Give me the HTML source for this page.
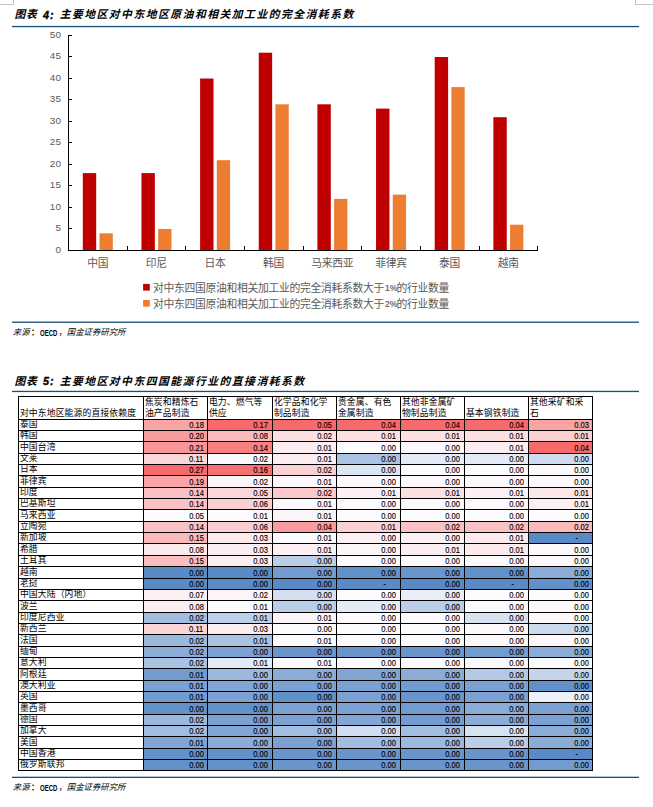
<!DOCTYPE html>
<html lang="zh"><head><meta charset="utf-8"><title>图表</title><style>
html,body{margin:0;padding:0;background:#fff}
body{width:653px;height:807px;position:relative;overflow:hidden;font-family:"Liberation Sans","Noto Sans CJK SC",sans-serif;color:#000}
#bg{position:absolute;left:0;top:0}
.cj{position:absolute;display:block;color:#000;white-space:nowrap;overflow:visible;line-height:1.35;letter-spacing:0;font-family:"Liberation Sans","Noto Sans CJK SC",sans-serif;box-sizing:border-box;text-align:left;font-weight:normal}
.cj.t1{font-weight:bold;font-style:italic;letter-spacing:1.5px;padding-left:2.75px}
.cj.t0{font-weight:bold;font-style:italic;letter-spacing:.6px;padding-left:2.3px}
.cj.ax{color:#595959;letter-spacing:-.3px;padding-left:1.85px}
.cj.src{font-style:italic;padding-left:2px}
.cj.pn{padding-left:2px}
.cj.tb{letter-spacing:.15px;padding-left:2.07px}
.lt{position:absolute;white-space:nowrap;line-height:1}
.yl{position:absolute;left:30px;width:31.3px;text-align:right;font-size:9.9px;line-height:10px;color:#595959;letter-spacing:.3px}
table{position:absolute;left:18px;top:396px;border-collapse:separate;border-spacing:0;table-layout:fixed;border-left:1px solid #000;border-top:1px solid #000;width:575px}
td,th{box-sizing:border-box;padding:0;border-right:1px solid #000;border-bottom:1px solid #000;font-weight:normal;position:relative;overflow:hidden;text-align:right;font-size:8.4px;line-height:9px;vertical-align:top}
tr{padding:0}
td.n{padding:0 4.4px 0 0;font-size:9.2px;line-height:10px}
td.w{padding-right:3.4px}
td.d{padding-right:14.2px}
td.n b{font-weight:normal;-webkit-text-stroke:.15px #000;display:inline-block;transform:scaleX(.82);transform-origin:100% 50%}
td .cj,th .cj{left:0;top:0}
</style></head><body>
<svg id="bg" width="653" height="807" viewBox="0 0 653 807"><g fill="none" stroke="#c4c4c4" stroke-width="1" shape-rendering="crispEdges"><path d="M0 4.5H13.5V0"/><path d="M653 4.5H635.5V0"/></g><rect x="12" y="25.9" width="627" height="1.3" fill="#14507a"/><rect x="12" y="321.55" width="627" height="1.3" fill="#14507a"/><rect x="12" y="390.8" width="627" height="1.3" fill="#14507a"/><rect x="12" y="776.7" width="627" height="1.3" fill="#14507a"/><g fill="#000" shape-rendering="crispEdges"><rect x="68" y="35" width="1" height="216"/><rect x="68" y="250" width="470" height="1"/><rect x="69" y="250" width="3" height="1"/><rect x="69" y="228" width="3" height="1"/><rect x="69" y="207" width="3" height="1"/><rect x="69" y="185" width="3" height="1"/><rect x="69" y="164" width="3" height="1"/><rect x="69" y="142" width="3" height="1"/><rect x="69" y="121" width="3" height="1"/><rect x="69" y="99" width="3" height="1"/><rect x="69" y="78" width="3" height="1"/><rect x="69" y="56" width="3" height="1"/><rect x="69" y="35" width="3" height="1"/><rect x="127" y="246" width="1" height="4"/><rect x="185" y="246" width="1" height="4"/><rect x="244" y="246" width="1" height="4"/><rect x="303" y="246" width="1" height="4"/><rect x="361" y="246" width="1" height="4"/><rect x="420" y="246" width="1" height="4"/><rect x="479" y="246" width="1" height="4"/><rect x="537" y="246" width="1" height="4"/></g><g><rect x="82.8" y="173.1" width="13.4" height="76.9" fill="#c00000"/><rect x="99.5" y="233.3" width="13.3" height="16.7" fill="#ed7d31"/><rect x="141.45" y="173.1" width="13.4" height="76.9" fill="#c00000"/><rect x="158.15" y="229" width="13.3" height="21" fill="#ed7d31"/><rect x="200.1" y="78.5" width="13.4" height="171.5" fill="#c00000"/><rect x="216.8" y="160.2" width="13.3" height="89.8" fill="#ed7d31"/><rect x="258.75" y="52.7" width="13.4" height="197.3" fill="#c00000"/><rect x="275.45" y="104.3" width="13.3" height="145.7" fill="#ed7d31"/><rect x="317.4" y="104.3" width="13.4" height="145.7" fill="#c00000"/><rect x="334.1" y="198.9" width="13.3" height="51.1" fill="#ed7d31"/><rect x="376.05" y="108.6" width="13.4" height="141.4" fill="#c00000"/><rect x="392.75" y="194.6" width="13.3" height="55.4" fill="#ed7d31"/><rect x="434.7" y="57" width="13.4" height="193" fill="#c00000"/><rect x="451.4" y="87.1" width="13.3" height="162.9" fill="#ed7d31"/><rect x="493.35" y="117.2" width="13.4" height="132.8" fill="#c00000"/><rect x="510.05" y="224.7" width="13.3" height="25.3" fill="#ed7d31"/><rect x="143.1" y="283.9" width="6.7" height="6.7" fill="#c00000"/><rect x="143.1" y="300" width="6.7" height="6.7" fill="#ed7d31"/></g></svg>
<span class="cj t0" style="left:12.2px;top:7.4px;width:26.8px;height:14.58px;font-size:10.8px">图表</span>
<span class="lt" style="left:43px;top:9px;font:italic bold 10.8px 'Liberation Sans',sans-serif;letter-spacing:1px;-webkit-text-stroke:.35px #000">4:</span>
<span class="cj t1" style="left:56.9px;top:7.4px;width:299.2px;height:14.58px;font-size:10.8px">主要地区对中东地区原油和相关加工业的完全消耗系数</span>
<span class="cj t0" style="left:12.2px;top:373.7px;width:26.8px;height:14.58px;font-size:10.8px">图表</span>
<span class="lt" style="left:43px;top:375.3px;font:italic bold 10.8px 'Liberation Sans',sans-serif;letter-spacing:1px;-webkit-text-stroke:.35px #000">5:</span>
<span class="cj t1" style="left:56.9px;top:373.7px;width:250px;height:14.58px;font-size:10.8px">主要地区对中东四国能源行业的直接消耗系数</span>
<div class="yl" style="top:245px">0</div>
<div class="yl" style="top:223px">5</div>
<div class="yl" style="top:202px">10</div>
<div class="yl" style="top:180px">15</div>
<div class="yl" style="top:159px">20</div>
<div class="yl" style="top:137px">25</div>
<div class="yl" style="top:116px">30</div>
<div class="yl" style="top:94px">35</div>
<div class="yl" style="top:73px">40</div>
<div class="yl" style="top:51px">45</div>
<div class="yl" style="top:30px">50</div>
<span class="cj ax" style="left:85.33px;top:255.8px;width:25px;height:14.58px;font-size:10.8px">中国</span>
<span class="cj ax" style="left:143.98px;top:255.8px;width:25px;height:14.58px;font-size:10.8px">印尼</span>
<span class="cj ax" style="left:202.62px;top:255.8px;width:25px;height:14.58px;font-size:10.8px">日本</span>
<span class="cj ax" style="left:261.28px;top:255.8px;width:25px;height:14.58px;font-size:10.8px">韩国</span>
<span class="cj ax" style="left:309.43px;top:255.8px;width:46px;height:14.58px;font-size:10.8px">马来西亚</span>
<span class="cj ax" style="left:373.33px;top:255.8px;width:35.5px;height:14.58px;font-size:10.8px">菲律宾</span>
<span class="cj ax" style="left:437.23px;top:255.8px;width:25px;height:14.58px;font-size:10.8px">泰国</span>
<span class="cj ax" style="left:495.88px;top:255.8px;width:25px;height:14.58px;font-size:10.8px">越南</span>
<span class="cj ax" style="left:151.2px;top:280.8px;width:235px;height:14.58px;font-size:10.8px">对中东四国原油和相关加工业的完全消耗系数大于</span>
<span class="lt" style="left:385.1px;top:283.7px;font-size:9.2px;color:#595959;-webkit-text-stroke:.2px #595959;transform:scaleX(.93);transform-origin:0 0">1%</span>
<span class="cj ax" style="left:394.7px;top:280.8px;width:56.5px;height:14.58px;font-size:10.8px">的行业数量</span>
<span class="cj ax" style="left:151.2px;top:296.9px;width:235px;height:14.58px;font-size:10.8px">对中东四国原油和相关加工业的完全消耗系数大于</span>
<span class="lt" style="left:385.1px;top:299.8px;font-size:9.2px;color:#595959;-webkit-text-stroke:.2px #595959;transform:scaleX(.93);transform-origin:0 0">2%</span>
<span class="cj ax" style="left:394.7px;top:296.9px;width:56.5px;height:14.58px;font-size:10.8px">的行业数量</span>
<span class="cj src" style="left:10.8px;top:326.8px;width:20.8px;height:11.34px;font-size:8.4px">来源</span>
<span class="cj pn" style="left:28.9px;top:326.8px;width:12.4px;height:11.34px;font-size:8.4px;font-weight:bold">：</span>
<span class="lt" style="left:39.8px;top:328.5px;font-size:8.4px;font-weight:bold;transform:scaleX(.72);transform-origin:0 0">OECD</span>
<span class="cj pn" style="left:56.4px;top:326.8px;width:12.4px;height:11.34px;font-size:8.4px">，</span>
<span class="cj src" style="left:64.8px;top:326.8px;width:62.8px;height:11.34px;font-size:8.4px">国金证券研究所</span>
<span class="cj src" style="left:10.8px;top:782.3px;width:20.8px;height:11.34px;font-size:8.4px">来源</span>
<span class="cj pn" style="left:28.9px;top:782.3px;width:12.4px;height:11.34px;font-size:8.4px;font-weight:bold">：</span>
<span class="lt" style="left:39.8px;top:784px;font-size:8.4px;font-weight:bold;transform:scaleX(.72);transform-origin:0 0">OECD</span>
<span class="cj pn" style="left:56.4px;top:782.3px;width:12.4px;height:11.34px;font-size:8.4px">，</span>
<span class="cj src" style="left:64.8px;top:782.3px;width:62.8px;height:11.34px;font-size:8.4px">国金证券研究所</span>
<table><colgroup><col style="width:125px"><col style="width:64px"><col style="width:65px"><col style="width:64px"><col style="width:64px"><col style="width:64px"><col style="width:64px"><col style="width:64px"></colgroup>
<tr style="height:23px">
<th style="height:23px"><span class="cj tb" style="left:-1.2px;top:11.1px;width:120.35px;height:11.88px;font-size:8.8px">对中东地区能源的直接依赖度</span></th>
<th style="height:23px"><span class="cj tb" style="left:-1.2px;top:0.2px;width:57.7px;height:11.88px;font-size:8.8px">焦炭和精炼石</span><span class="cj tb" style="left:-1.2px;top:11.1px;width:48.75px;height:11.88px;font-size:8.8px">油产品制造</span></th>
<th style="height:23px"><span class="cj tb" style="left:-1.2px;top:0.2px;width:57.7px;height:11.88px;font-size:8.8px">电力、燃气等</span><span class="cj tb" style="left:-1.2px;top:11.1px;width:21.9px;height:11.88px;font-size:8.8px">供应</span></th>
<th style="height:23px"><span class="cj tb" style="left:-1.2px;top:0.2px;width:57.7px;height:11.88px;font-size:8.8px">化学品和化学</span><span class="cj tb" style="left:-1.2px;top:11.1px;width:39.8px;height:11.88px;font-size:8.8px">制品制造</span></th>
<th style="height:23px"><span class="cj tb" style="left:-1.2px;top:0.2px;width:57.7px;height:11.88px;font-size:8.8px">贵金属、有色</span><span class="cj tb" style="left:-1.2px;top:11.1px;width:39.8px;height:11.88px;font-size:8.8px">金属制造</span></th>
<th style="height:23px"><span class="cj tb" style="left:-1.2px;top:0.2px;width:57.7px;height:11.88px;font-size:8.8px">其他非金属矿</span><span class="cj tb" style="left:-1.2px;top:11.1px;width:48.75px;height:11.88px;font-size:8.8px">物制品制造</span></th>
<th style="height:23px"><span class="cj tb" style="left:-1.2px;top:11.1px;width:57.7px;height:11.88px;font-size:8.8px">基本钢铁制造</span></th>
<th style="height:23px"><span class="cj tb" style="left:-1.2px;top:0.2px;width:57.7px;height:11.88px;font-size:8.8px">其他采矿和采</span><span class="cj tb" style="left:-1.2px;top:11.1px;width:12.95px;height:11.88px;font-size:8.8px">石</span></th>
</tr>
<tr style="height:11px"><td style="height:11px"><span class="cj tb" style="left:-1.2px;top:-0.6px;width:21.9px;height:11.88px;font-size:8.8px">泰国</span></td>
<td class="n w" style="height:11px;background:#faa4a6"><b>0.18</b></td>
<td class="n" style="height:11px;background:#f8696b"><b>0.17</b></td>
<td class="n" style="height:11px;background:#f8696b"><b>0.05</b></td>
<td class="n" style="height:11px;background:#f8696b"><b>0.04</b></td>
<td class="n" style="height:11px;background:#f8696b"><b>0.04</b></td>
<td class="n" style="height:11px;background:#f8696b"><b>0.04</b></td>
<td class="n w" style="height:11px;background:#faa4a6"><b>0.03</b></td>
</tr>
<tr style="height:11px"><td style="height:11px"><span class="cj tb" style="left:-1.2px;top:-0.6px;width:21.9px;height:11.88px;font-size:8.8px">韩国</span></td>
<td class="n w" style="height:11px;background:#f99c9f"><b>0.20</b></td>
<td class="n" style="height:11px;background:#fababc"><b>0.08</b></td>
<td class="n" style="height:11px;background:#fbdfe1"><b>0.02</b></td>
<td class="n" style="height:11px;background:#fbdfe1"><b>0.01</b></td>
<td class="n" style="height:11px;background:#fbdfe1"><b>0.01</b></td>
<td class="n" style="height:11px;background:#fbdfe1"><b>0.01</b></td>
<td class="n w" style="height:11px;background:#fbd0d3"><b>0.01</b></td>
</tr>
<tr style="height:12px"><td style="height:12px"><span class="cj tb" style="left:-1.2px;top:0.4px;width:39.8px;height:11.88px;font-size:8.8px">中国台湾</span></td>
<td class="n w" style="height:12px;padding-top:1px;background:#f99597"><b>0.21</b></td>
<td class="n" style="height:12px;padding-top:1px;background:#f97f81"><b>0.14</b></td>
<td class="n" style="height:12px;padding-top:1px;background:#fcedf0"><b>0.01</b></td>
<td class="n" style="height:12px;padding-top:1px;background:#fcfcff"><b>0.00</b></td>
<td class="n" style="height:12px;padding-top:1px;background:#fcf8fb"><b>0.00</b></td>
<td class="n" style="height:12px;padding-top:1px;background:#fcedf0"><b>0.01</b></td>
<td class="n w" style="height:12px;padding-top:1px;background:#f8696b"><b>0.04</b></td>
</tr>
<tr style="height:11px"><td style="height:11px"><span class="cj tb" style="left:-1.2px;top:-0.6px;width:21.9px;height:11.88px;font-size:8.8px">文莱</span></td>
<td class="n w" style="height:11px;background:#fbd7da"><b>0.11</b></td>
<td class="n" style="height:11px;background:#fcf9fc"><b>0.02</b></td>
<td class="n" style="height:11px;background:#fcedf0"><b>0.01</b></td>
<td class="n" style="height:11px;background:#abc3e2"><b>0.00</b></td>
<td class="n" style="height:11px;background:#e4ebf6"><b>0.00</b></td>
<td class="n" style="height:11px;background:#e4ebf6"><b>0.00</b></td>
<td class="n w" style="height:11px;background:#cfdcef"><b>0.00</b></td>
</tr>
<tr style="height:11px"><td style="height:11px"><span class="cj tb" style="left:-1.2px;top:-0.6px;width:21.9px;height:11.88px;font-size:8.8px">日本</span></td>
<td class="n w" style="height:11px;background:#f8696b"><b>0.27</b></td>
<td class="n" style="height:11px;background:#f87072"><b>0.16</b></td>
<td class="n" style="height:11px;background:#fbd0d3"><b>0.02</b></td>
<td class="n" style="height:11px;background:#dce5f4"><b>0.00</b></td>
<td class="n" style="height:11px;background:#fcfcff"><b>0.00</b></td>
<td class="n" style="height:11px;background:#fcfcff"><b>0.00</b></td>
<td class="n w" style="height:11px;background:#fcf9fc"><b>0.00</b></td>
</tr>
<tr style="height:12px"><td style="height:12px"><span class="cj tb" style="left:-1.2px;top:0.4px;width:30.85px;height:11.88px;font-size:8.8px">菲律宾</span></td>
<td class="n w" style="height:12px;padding-top:1px;background:#faa4a6"><b>0.19</b></td>
<td class="n" style="height:12px;padding-top:1px;background:#fcf5f8"><b>0.02</b></td>
<td class="n" style="height:12px;padding-top:1px;background:#fcf8fb"><b>0.01</b></td>
<td class="n" style="height:12px;padding-top:1px;background:#fcf8fb"><b>0.00</b></td>
<td class="n" style="height:12px;padding-top:1px;background:#fcf8fb"><b>0.00</b></td>
<td class="n" style="height:12px;padding-top:1px;background:#fcf8fb"><b>0.00</b></td>
<td class="n w" style="height:12px;padding-top:1px;background:#fcf8fb"><b>0.00</b></td>
</tr>
<tr style="height:11px"><td style="height:11px"><span class="cj tb" style="left:-1.2px;top:-0.6px;width:21.9px;height:11.88px;font-size:8.8px">印度</span></td>
<td class="n w" style="height:11px;background:#fac1c4"><b>0.14</b></td>
<td class="n" style="height:11px;background:#fbd7da"><b>0.05</b></td>
<td class="n" style="height:11px;background:#fbc9cb"><b>0.02</b></td>
<td class="n" style="height:11px;background:#fcf0f3"><b>0.01</b></td>
<td class="n" style="height:11px;background:#fbdfe1"><b>0.01</b></td>
<td class="n" style="height:11px;background:#fcf0f3"><b>0.01</b></td>
<td class="n w" style="height:11px;background:#fbe6e9"><b>0.01</b></td>
</tr>
<tr style="height:11px"><td style="height:11px"><span class="cj tb" style="left:-1.2px;top:-0.6px;width:39.8px;height:11.88px;font-size:8.8px">巴基斯坦</span></td>
<td class="n w" style="height:11px;background:#fac1c4"><b>0.14</b></td>
<td class="n" style="height:11px;background:#fbd0d3"><b>0.06</b></td>
<td class="n" style="height:11px;background:#fcf8fb"><b>0.01</b></td>
<td class="n" style="height:11px;background:#fcf9fc"><b>0.00</b></td>
<td class="n" style="height:11px;background:#fcf9fc"><b>0.00</b></td>
<td class="n" style="height:11px;background:#fcf8fb"><b>0.00</b></td>
<td class="n w" style="height:11px;background:#fcf0f3"><b>0.01</b></td>
</tr>
<tr style="height:12px"><td style="height:12px"><span class="cj tb" style="left:-1.2px;top:0.4px;width:39.8px;height:11.88px;font-size:8.8px">马来西亚</span></td>
<td class="n w" style="height:12px;padding-top:1px;background:#fcfbfe"><b>0.05</b></td>
<td class="n" style="height:12px;padding-top:1px;background:#fcfcff"><b>0.01</b></td>
<td class="n" style="height:12px;padding-top:1px;background:#fcf5f8"><b>0.01</b></td>
<td class="n" style="height:12px;padding-top:1px;background:#fcfcff"><b>0.00</b></td>
<td class="n" style="height:12px;padding-top:1px;background:#fcfcff"><b>0.00</b></td>
<td class="n" style="height:12px;padding-top:1px;background:#fcfcff"><b>0.00</b></td>
<td class="n w" style="height:12px;padding-top:1px;background:#fcfcff"><b>0.00</b></td>
</tr>
<tr style="height:11px"><td style="height:11px"><span class="cj tb" style="left:-1.2px;top:-0.6px;width:30.85px;height:11.88px;font-size:8.8px">立陶宛</span></td>
<td class="n w" style="height:11px;background:#fac1c4"><b>0.14</b></td>
<td class="n" style="height:11px;background:#fbcdd0"><b>0.06</b></td>
<td class="n" style="height:11px;background:#f99c9f"><b>0.04</b></td>
<td class="n" style="height:11px;background:#fbd0d3"><b>0.01</b></td>
<td class="n" style="height:11px;background:#fac1c4"><b>0.02</b></td>
<td class="n" style="height:11px;background:#fac1c4"><b>0.02</b></td>
<td class="n w" style="height:11px;background:#fababc"><b>0.02</b></td>
</tr>
<tr style="height:11px"><td style="height:11px"><span class="cj tb" style="left:-1.2px;top:-0.6px;width:30.85px;height:11.88px;font-size:8.8px">新加坡</span></td>
<td class="n w" style="height:11px;background:#fababc"><b>0.15</b></td>
<td class="n" style="height:11px;background:#fceaed"><b>0.03</b></td>
<td class="n" style="height:11px;background:#fcfcff"><b>0.01</b></td>
<td class="n" style="height:11px;background:#fcf0f3"><b>0.00</b></td>
<td class="n" style="height:11px;background:#fcf0f3"><b>0.00</b></td>
<td class="n" style="height:11px;background:#fceaed"><b>0.01</b></td>
<td class="n d w" style="height:11px;background:#5a8ac6"><b>-</b></td>
</tr>
<tr style="height:12px"><td style="height:12px"><span class="cj tb" style="left:-1.2px;top:0.4px;width:21.9px;height:11.88px;font-size:8.8px">希腊</span></td>
<td class="n w" style="height:12px;padding-top:1px;background:#fceaed"><b>0.08</b></td>
<td class="n" style="height:12px;padding-top:1px;background:#fcedf0"><b>0.03</b></td>
<td class="n" style="height:12px;padding-top:1px;background:#fcf0f3"><b>0.01</b></td>
<td class="n" style="height:12px;padding-top:1px;background:#fcf5f8"><b>0.00</b></td>
<td class="n" style="height:12px;padding-top:1px;background:#fcedf0"><b>0.01</b></td>
<td class="n" style="height:12px;padding-top:1px;background:#fceaed"><b>0.01</b></td>
<td class="n w" style="height:12px;padding-top:1px;background:#fcf9fc"><b>0.00</b></td>
</tr>
<tr style="height:11px"><td style="height:11px"><span class="cj tb" style="left:-1.2px;top:-0.6px;width:30.85px;height:11.88px;font-size:8.8px">土耳其</span></td>
<td class="n w" style="height:11px;background:#fabec1"><b>0.15</b></td>
<td class="n" style="height:11px;background:#fcedf0"><b>0.03</b></td>
<td class="n" style="height:11px;background:#bbcee8"><b>0.00</b></td>
<td class="n" style="height:11px;background:#fcfcff"><b>0.00</b></td>
<td class="n" style="height:11px;background:#fcfcff"><b>0.00</b></td>
<td class="n" style="height:11px;background:#fcf9fc"><b>0.00</b></td>
<td class="n w" style="height:11px;background:#fcf8fb"><b>0.00</b></td>
</tr>
<tr style="height:12px"><td style="height:12px"><span class="cj tb" style="left:-1.2px;top:0.4px;width:21.9px;height:11.88px;font-size:8.8px">越南</span></td>
<td class="n w" style="height:12px;padding-top:1px;background:#5a8ac6"><b>0.00</b></td>
<td class="n" style="height:12px;padding-top:1px;background:#5a8ac6"><b>0.00</b></td>
<td class="n" style="height:12px;padding-top:1px;background:#729bcf"><b>0.00</b></td>
<td class="n" style="height:12px;padding-top:1px;background:#6290c9"><b>0.00</b></td>
<td class="n" style="height:12px;padding-top:1px;background:#6a95cc"><b>0.00</b></td>
<td class="n" style="height:12px;padding-top:1px;background:#6290c9"><b>0.00</b></td>
<td class="n w" style="height:12px;padding-top:1px;background:#8bacd7"><b>0.00</b></td>
</tr>
<tr style="height:11px"><td style="height:11px"><span class="cj tb" style="left:-1.2px;top:-0.6px;width:21.9px;height:11.88px;font-size:8.8px">老挝</span></td>
<td class="n w" style="height:11px;background:#5a8ac6"><b>0.00</b></td>
<td class="n" style="height:11px;background:#5a8ac6"><b>0.00</b></td>
<td class="n" style="height:11px;background:#5a8ac6"><b>0.00</b></td>
<td class="n d" style="height:11px;background:#5a8ac6"><b>-</b></td>
<td class="n" style="height:11px;background:#5a8ac6"><b>0.00</b></td>
<td class="n d" style="height:11px;background:#5a8ac6"><b>-</b></td>
<td class="n w" style="height:11px;background:#6290c9"><b>0.00</b></td>
</tr>
<tr style="height:11px"><td style="height:11px"><span class="cj tb" style="left:-1.2px;top:-0.6px;width:75.6px;height:11.88px;font-size:8.8px">中国大陆（内地）</span></td>
<td class="n w" style="height:11px;background:#fcf0f3"><b>0.07</b></td>
<td class="n" style="height:11px;background:#fcf5f8"><b>0.02</b></td>
<td class="n" style="height:11px;background:#d4e0f1"><b>0.00</b></td>
<td class="n" style="height:11px;background:#fcfcff"><b>0.00</b></td>
<td class="n" style="height:11px;background:#e9eef8"><b>0.00</b></td>
<td class="n" style="height:11px;background:#fcfcff"><b>0.00</b></td>
<td class="n w" style="height:11px;background:#fcfcff"><b>0.00</b></td>
</tr>
<tr style="height:12px"><td style="height:12px"><span class="cj tb" style="left:-1.2px;top:0.4px;width:21.9px;height:11.88px;font-size:8.8px">波兰</span></td>
<td class="n w" style="height:12px;padding-top:1px;background:#fcedf0"><b>0.08</b></td>
<td class="n" style="height:12px;padding-top:1px;background:#fcfcff"><b>0.01</b></td>
<td class="n" style="height:12px;padding-top:1px;background:#bbcee8"><b>0.00</b></td>
<td class="n" style="height:12px;padding-top:1px;background:#e4ebf6"><b>0.00</b></td>
<td class="n" style="height:12px;padding-top:1px;background:#bbcee8"><b>0.00</b></td>
<td class="n" style="height:12px;padding-top:1px;background:#fcfcff"><b>0.00</b></td>
<td class="n w" style="height:12px;padding-top:1px;background:#fcf9fc"><b>0.00</b></td>
</tr>
<tr style="height:11px"><td style="height:11px"><span class="cj tb" style="left:-1.2px;top:-0.6px;width:48.75px;height:11.88px;font-size:8.8px">印度尼西亚</span></td>
<td class="n w" style="height:11px;background:#a3bde0"><b>0.02</b></td>
<td class="n" style="height:11px;background:#bed1e9"><b>0.01</b></td>
<td class="n" style="height:11px;background:#fcf5f8"><b>0.01</b></td>
<td class="n" style="height:11px;background:#fcfcff"><b>0.00</b></td>
<td class="n" style="height:11px;background:#fcfcff"><b>0.00</b></td>
<td class="n" style="height:11px;background:#d8e3f2"><b>0.00</b></td>
<td class="n w" style="height:11px;background:#fcf8fb"><b>0.00</b></td>
</tr>
<tr style="height:11px"><td style="height:11px"><span class="cj tb" style="left:-1.2px;top:-0.6px;width:30.85px;height:11.88px;font-size:8.8px">新西兰</span></td>
<td class="n w" style="height:11px;background:#fbd4d7"><b>0.11</b></td>
<td class="n" style="height:11px;background:#fcedf0"><b>0.03</b></td>
<td class="n" style="height:11px;background:#fcfcff"><b>0.00</b></td>
<td class="n" style="height:11px;background:#fcfcff"><b>0.00</b></td>
<td class="n" style="height:11px;background:#fcfcff"><b>0.00</b></td>
<td class="n" style="height:11px;background:#fcf9fc"><b>0.00</b></td>
<td class="n w" style="height:11px;background:#cbdaee"><b>0.00</b></td>
</tr>
<tr style="height:12px"><td style="height:12px"><span class="cj tb" style="left:-1.2px;top:0.4px;width:21.9px;height:11.88px;font-size:8.8px">法国</span></td>
<td class="n w" style="height:12px;padding-top:1px;background:#9bb8dd"><b>0.02</b></td>
<td class="n" style="height:12px;padding-top:1px;background:#abc3e2"><b>0.01</b></td>
<td class="n" style="height:12px;padding-top:1px;background:#fcfcff"><b>0.01</b></td>
<td class="n" style="height:12px;padding-top:1px;background:#fcfcff"><b>0.00</b></td>
<td class="n" style="height:12px;padding-top:1px;background:#fcfcff"><b>0.00</b></td>
<td class="n" style="height:12px;padding-top:1px;background:#fcf8fb"><b>0.00</b></td>
<td class="n w" style="height:12px;padding-top:1px;background:#fcf8fb"><b>0.00</b></td>
</tr>
<tr style="height:11px"><td style="height:11px"><span class="cj tb" style="left:-1.2px;top:-0.6px;width:21.9px;height:11.88px;font-size:8.8px">缅甸</span></td>
<td class="n w" style="height:11px;background:#8bacd7"><b>0.02</b></td>
<td class="n" style="height:11px;background:#7aa1d1"><b>0.00</b></td>
<td class="n" style="height:11px;background:#6a95cc"><b>0.00</b></td>
<td class="n" style="height:11px;background:#6a95cc"><b>0.00</b></td>
<td class="n" style="height:11px;background:#6a95cc"><b>0.00</b></td>
<td class="n" style="height:11px;background:#729bcf"><b>0.00</b></td>
<td class="n w" style="height:11px;background:#8bacd7"><b>0.00</b></td>
</tr>
<tr style="height:11px"><td style="height:11px"><span class="cj tb" style="left:-1.2px;top:-0.6px;width:30.85px;height:11.88px;font-size:8.8px">意大利</span></td>
<td class="n w" style="height:11px;background:#abc3e2"><b>0.02</b></td>
<td class="n" style="height:11px;background:#e4ebf6"><b>0.01</b></td>
<td class="n" style="height:11px;background:#fcfcff"><b>0.01</b></td>
<td class="n" style="height:11px;background:#fcfcff"><b>0.00</b></td>
<td class="n" style="height:11px;background:#fcfcff"><b>0.00</b></td>
<td class="n" style="height:11px;background:#fcf9fc"><b>0.00</b></td>
<td class="n w" style="height:11px;background:#fcfcff"><b>0.00</b></td>
</tr>
<tr style="height:12px"><td style="height:12px"><span class="cj tb" style="left:-1.2px;top:0.4px;width:30.85px;height:11.88px;font-size:8.8px">阿根廷</span></td>
<td class="n w" style="height:12px;padding-top:1px;background:#729bcf"><b>0.01</b></td>
<td class="n" style="height:12px;padding-top:1px;background:#9bb8dd"><b>0.00</b></td>
<td class="n" style="height:12px;padding-top:1px;background:#8bacd7"><b>0.00</b></td>
<td class="n" style="height:12px;padding-top:1px;background:#82a6d4"><b>0.00</b></td>
<td class="n" style="height:12px;padding-top:1px;background:#8bacd7"><b>0.00</b></td>
<td class="n" style="height:12px;padding-top:1px;background:#b3c9e5"><b>0.00</b></td>
<td class="n w" style="height:12px;padding-top:1px;background:#c3d4eb"><b>0.00</b></td>
</tr>
<tr style="height:11px"><td style="height:11px"><span class="cj tb" style="left:-1.2px;top:-0.6px;width:39.8px;height:11.88px;font-size:8.8px">澳大利亚</span></td>
<td class="n w" style="height:11px;background:#7aa1d1"><b>0.01</b></td>
<td class="n" style="height:11px;background:#82a6d4"><b>0.00</b></td>
<td class="n" style="height:11px;background:#7aa1d1"><b>0.00</b></td>
<td class="n" style="height:11px;background:#7aa1d1"><b>0.00</b></td>
<td class="n" style="height:11px;background:#729bcf"><b>0.00</b></td>
<td class="n" style="height:11px;background:#7aa1d1"><b>0.00</b></td>
<td class="n w" style="height:11px;background:#6290c9"><b>0.00</b></td>
</tr>
<tr style="height:11px"><td style="height:11px"><span class="cj tb" style="left:-1.2px;top:-0.6px;width:21.9px;height:11.88px;font-size:8.8px">英国</span></td>
<td class="n w" style="height:11px;background:#729bcf"><b>0.01</b></td>
<td class="n" style="height:11px;background:#7aa1d1"><b>0.00</b></td>
<td class="n" style="height:11px;background:#6290c9"><b>0.00</b></td>
<td class="n" style="height:11px;background:#7aa1d1"><b>0.00</b></td>
<td class="n" style="height:11px;background:#6a95cc"><b>0.00</b></td>
<td class="n" style="height:11px;background:#7aa1d1"><b>0.00</b></td>
<td class="n w" style="height:11px;background:#ecf1f9"><b>0.00</b></td>
</tr>
<tr style="height:12px"><td style="height:12px"><span class="cj tb" style="left:-1.2px;top:0.4px;width:30.85px;height:11.88px;font-size:8.8px">墨西哥</span></td>
<td class="n w" style="height:12px;padding-top:1px;background:#6290c9"><b>0.00</b></td>
<td class="n" style="height:12px;padding-top:1px;background:#6290c9"><b>0.00</b></td>
<td class="n" style="height:12px;padding-top:1px;background:#7aa1d1"><b>0.00</b></td>
<td class="n" style="height:12px;padding-top:1px;background:#7aa1d1"><b>0.00</b></td>
<td class="n" style="height:12px;padding-top:1px;background:#729bcf"><b>0.00</b></td>
<td class="n" style="height:12px;padding-top:1px;background:#8bacd7"><b>0.00</b></td>
<td class="n w" style="height:12px;padding-top:1px;background:#7aa1d1"><b>0.00</b></td>
</tr>
<tr style="height:11px"><td style="height:11px"><span class="cj tb" style="left:-1.2px;top:-0.6px;width:21.9px;height:11.88px;font-size:8.8px">德国</span></td>
<td class="n w" style="height:11px;background:#9bb8dd"><b>0.02</b></td>
<td class="n" style="height:11px;background:#7aa1d1"><b>0.00</b></td>
<td class="n" style="height:11px;background:#7aa1d1"><b>0.00</b></td>
<td class="n" style="height:11px;background:#82a6d4"><b>0.00</b></td>
<td class="n" style="height:11px;background:#729bcf"><b>0.00</b></td>
<td class="n" style="height:11px;background:#8bacd7"><b>0.00</b></td>
<td class="n w" style="height:11px;background:#7aa1d1"><b>0.00</b></td>
</tr>
<tr style="height:11px"><td style="height:11px"><span class="cj tb" style="left:-1.2px;top:-0.6px;width:30.85px;height:11.88px;font-size:8.8px">加拿大</span></td>
<td class="n w" style="height:11px;background:#a3bde0"><b>0.02</b></td>
<td class="n" style="height:11px;background:#82a6d4"><b>0.00</b></td>
<td class="n" style="height:11px;background:#a3bde0"><b>0.00</b></td>
<td class="n" style="height:11px;background:#d0ddf0"><b>0.00</b></td>
<td class="n" style="height:11px;background:#a3bde0"><b>0.00</b></td>
<td class="n" style="height:11px;background:#d8e3f2"><b>0.00</b></td>
<td class="n w" style="height:11px;background:#8bacd7"><b>0.00</b></td>
</tr>
<tr style="height:12px"><td style="height:12px"><span class="cj tb" style="left:-1.2px;top:0.4px;width:21.9px;height:11.88px;font-size:8.8px">美国</span></td>
<td class="n w" style="height:12px;padding-top:1px;background:#82a6d4"><b>0.01</b></td>
<td class="n" style="height:12px;padding-top:1px;background:#8bacd7"><b>0.00</b></td>
<td class="n" style="height:12px;padding-top:1px;background:#7aa1d1"><b>0.00</b></td>
<td class="n" style="height:12px;padding-top:1px;background:#a3bde0"><b>0.00</b></td>
<td class="n" style="height:12px;padding-top:1px;background:#9bb8dd"><b>0.00</b></td>
<td class="n" style="height:12px;padding-top:1px;background:#bbcee8"><b>0.00</b></td>
<td class="n w" style="height:12px;padding-top:1px;background:#8bacd7"><b>0.00</b></td>
</tr>
<tr style="height:11px"><td style="height:11px"><span class="cj tb" style="left:-1.2px;top:-0.6px;width:39.8px;height:11.88px;font-size:8.8px">中国香港</span></td>
<td class="n w" style="height:11px;background:#6290c9"><b>0.00</b></td>
<td class="n" style="height:11px;background:#6290c9"><b>0.00</b></td>
<td class="n" style="height:11px;background:#6a95cc"><b>0.00</b></td>
<td class="n" style="height:11px;background:#6a95cc"><b>0.00</b></td>
<td class="n" style="height:11px;background:#6a95cc"><b>0.00</b></td>
<td class="n" style="height:11px;background:#6a95cc"><b>0.00</b></td>
<td class="n d w" style="height:11px;background:#5a8ac6"><b>-</b></td>
</tr>
<tr style="height:11px"><td style="height:11px"><span class="cj tb" style="left:-1.2px;top:-0.6px;width:48.75px;height:11.88px;font-size:8.8px">俄罗斯联邦</span></td>
<td class="n w" style="height:11px;background:#6290c9"><b>0.00</b></td>
<td class="n" style="height:11px;background:#6290c9"><b>0.00</b></td>
<td class="n" style="height:11px;background:#6a95cc"><b>0.00</b></td>
<td class="n" style="height:11px;background:#6a95cc"><b>0.00</b></td>
<td class="n" style="height:11px;background:#6a95cc"><b>0.00</b></td>
<td class="n" style="height:11px;background:#6a95cc"><b>0.00</b></td>
<td class="n w" style="height:11px;background:#729bcf"><b>0.00</b></td>
</tr>
</table>
</body></html>
